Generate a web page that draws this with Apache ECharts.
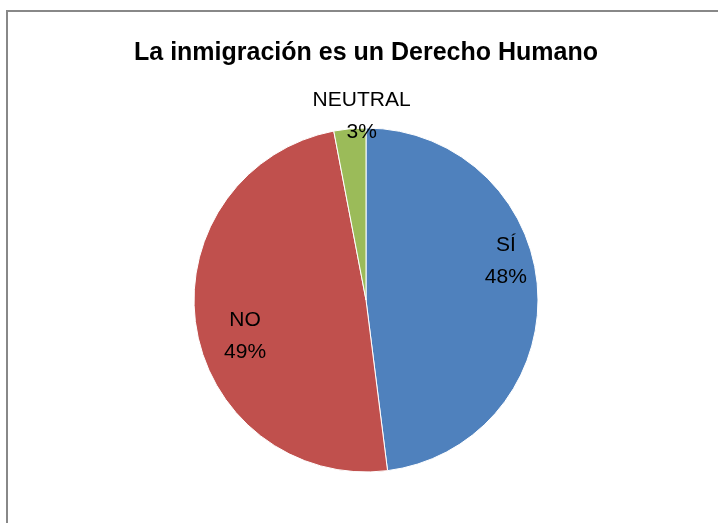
<!DOCTYPE html>
<html>
<head>
<meta charset="utf-8">
<script src="https://cdn.jsdelivr.net/npm/echarts@6/dist/echarts.min.js"></script>
<style>
  html, body { margin: 0; padding: 0; background: #fff; overflow: hidden; }
  #frame { position: absolute; left: 6px; top: 10px; width: 730px; height: 530px; border: 2px solid #888888; }
  #chart { position: absolute; left: 0; top: 0; width: 716px; height: 510px; }
</style>
</head>
<body>
<div id="frame"><div id="chart"></div></div>
<script>
const titleText = 'La inmigración es un Derecho Humano';
const categories = ['SÍ', 'NO', 'NEUTRAL'];
const values = [48, 49, 3];
const colors = ['#4F81BD', '#C0504D', '#9BBB59'];
const labelOffsets = [[51, -33], [-33, 22], [4, -95]];

const chart = echarts.init(document.getElementById('chart'), null, { renderer: 'canvas' });
chart.setOption({
  animation: false,
  title: {
    text: titleText,
    left: 'center',
    top: 24,
    textStyle: { fontFamily: 'Liberation Sans', fontWeight: 'bold', fontSize: 25, color: '#000' }
  },
  series: [{
    type: 'pie',
    center: [358, 288],
    radius: [0, 172],
    startAngle: 90,
    clockwise: true,
    avoidLabelOverlap: false,
    itemStyle: { borderColor: '#ffffff', borderWidth: 1 },
    labelLine: { show: false },
    label: {
      show: true,
      position: 'inside',
      formatter: p => p.name + '\n' + p.value + '%',
      fontFamily: 'Liberation Sans',
      fontSize: 21,
      lineHeight: 32,
      color: '#000'
    },
    emphasis: { disabled: true },
    data: categories.map((c, i) => ({
      name: c,
      value: values[i],
      itemStyle: { color: colors[i] },
      label: { offset: labelOffsets[i] }
    }))
  }]
});
</script>
</body>
</html>
